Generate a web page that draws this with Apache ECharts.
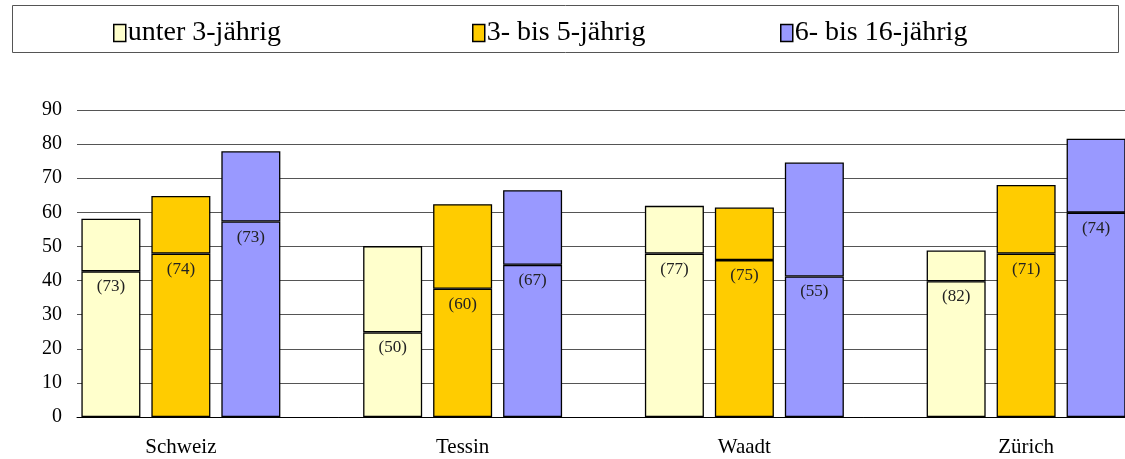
<!DOCTYPE html>
<html>
<head>
<meta charset="utf-8">
<script src="https://cdn.jsdelivr.net/npm/echarts@6/dist/echarts.min.js"></script>
<style>
  html, body { margin: 0; padding: 0; background: #fff; }
  #chart { width: 1125px; height: 459px; }
</style>
</head>
<body>
<div id="chart"></div>
<script>
// Kategorien und Altersgruppen
const categories = ['Schweiz', 'Tessin', 'Waadt', 'Zürich'];
const groupNames = ['unter 3-jährig', '3- bis 5-jährig', '6- bis 16-jährig'];
const groupColors = ['#FFFFCC', '#FFCC00', '#9999FF'];

// Gesamthöhe der Balken
const totalU3 = [58.1, 50.1, 61.9, 48.8];
const total35 = [64.8, 62.4, 61.4, 68.0];
const total616 = [77.9, 66.5, 74.6, 81.6];

// innere Linie (Teilwert)
const innerU3 = [42.7, 24.8, 47.9, 39.8];
const inner35 = [47.9, 37.6, 46.0, 47.9];
const inner616 = [57.3, 44.6, 41.2, 59.9];

// Werte in Klammern
const pctU3 = [73, 50, 77, 82];
const pct35 = [74, 60, 75, 71];
const pct616 = [73, 67, 55, 74];

const yMin = 0, yMax = 90, yStep = 10;

const totals = [totalU3, total35, total616];
const inners = [innerU3, inner35, inner616];
const pcts = [pctU3, pct35, pct616];

const font = '"Liberation Serif", "Times New Roman", serif';

let myChart = echarts.init(document.getElementById('chart'));

let series = [];
groupNames.forEach(function (name, g) {
  let style = { color: groupColors[g], borderColor: '#000', borderWidth: 1.3 };
  series.push({
    name: name,
    type: 'bar',
    stack: 'st' + g,
    xAxisIndex: 1,
    yAxisIndex: 1,
    barWidth: 59,
    barGap: '18.6%',
    itemStyle: style,
    label: {
      show: true,
      position: 'insideTop',
      distance: 7,
      fontFamily: font,
      fontSize: 17,
      color: '#222',
      formatter: function (p) { return '(' + pcts[g][p.dataIndex] + ')'; },
    },
    data: inners[g],
  });
  series.push({
    name: name,
    type: 'bar',
    stack: 'st' + g,
    xAxisIndex: 1,
    yAxisIndex: 1,
    barWidth: 59,
    barGap: '18.6%',
    itemStyle: style,
    data: totals[g].map(function (t, i) { return +(t - inners[g][i]).toFixed(2); }),
  });
});

// Legende: drei einzelne Legenden, damit die Abstände stimmen
const legendLeft = [108, 467, 775];
let legends = groupNames.map(function (name, g) {
  return {
    data: [name],
    left: legendLeft[g],
    top: 14,
    selectedMode: false,
    icon: 'rect',
    itemWidth: 12,
    itemHeight: 17,
    itemStyle: { borderColor: '#000', borderWidth: 1.5 },
    textStyle: { fontFamily: font, fontSize: 28, color: '#000', padding: [0, 0, 0, -3] },
  };
});

let option = {
  animation: false,
  backgroundColor: '#fff',
  graphic: [{
    type: 'rect',
    shape: { x: 12.5, y: 5.5, width: 1106, height: 47 },
    style: { fill: 'none', stroke: '#555', lineWidth: 1 },
  }],
  legend: legends,
  grid: [
    { left: 77, right: 0, top: 110, height: 307, outerBoundsMode: 'none', containLabel: false },
    { left: 40, width: 1127, top: 110, height: 307, outerBoundsMode: 'none', containLabel: false },
  ],
  xAxis: [
    {
      type: 'category',
      gridIndex: 0,
      data: categories,
      axisLine: { show: true, lineStyle: { color: '#000', width: 1 } },
      axisTick: { show: false },
      axisLabel: { show: false },
    },
    {
      type: 'category',
      gridIndex: 1,
      data: categories,
      axisLine: { show: false },
      axisTick: { show: false },
      axisLabel: { margin: 20, fontFamily: font, fontSize: 21, color: '#000' },
    },
  ],
  yAxis: [
    {
      type: 'value',
      gridIndex: 0,
      min: yMin,
      max: yMax,
      interval: yStep,
      axisLine: { show: false },
      axisTick: { show: false },
      axisLabel: { margin: 15, fontFamily: font, fontSize: 20, color: '#000' },
      splitLine: { lineStyle: { color: '#555', width: 1 } },
    },
    {
      type: 'value',
      gridIndex: 1,
      min: yMin,
      max: yMax,
      interval: yStep,
      show: false,
      splitLine: { show: false },
    },
  ],
  series: series,
};
myChart.setOption(option);
</script>
</body>
</html>
